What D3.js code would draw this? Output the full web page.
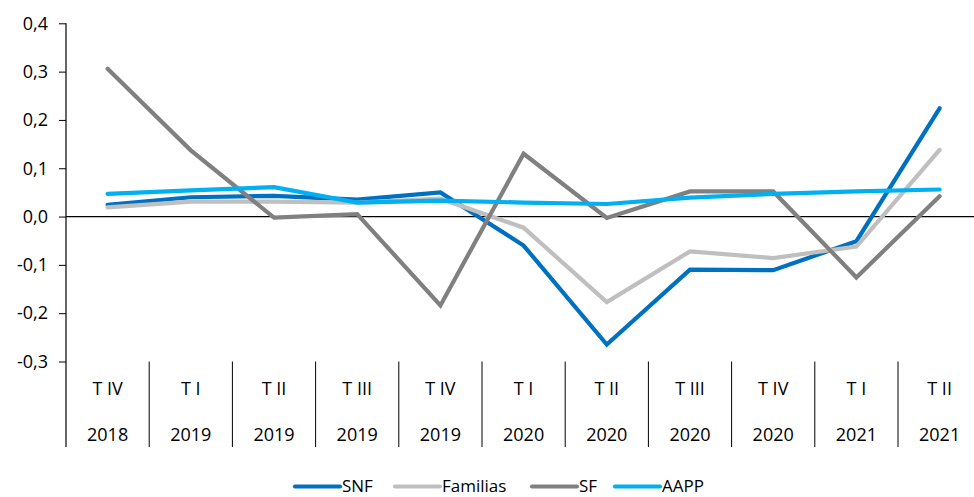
<!DOCTYPE html>
<html>
<head>
<meta charset="utf-8">
<script src="https://cdn.jsdelivr.net/npm/d3@7"></script>
<style>
  html, body { margin: 0; padding: 0; background: #fff; }
  svg { display: block; font-family: "Open Sans", "Noto Sans", sans-serif; }
</style>
</head>
<body>
<svg id="chart" width="974" height="497"></svg>
<script>
// Quarters and years shown on the category axis
const quarters = ["T IV", "T I", "T II", "T III", "T IV", "T I", "T II", "T III", "T IV", "T I", "T II"];
const years = ["2018", "2019", "2019", "2019", "2019", "2020", "2020", "2020", "2020", "2021", "2021"];

// Series values
const snf      = [0.024, 0.040, 0.043, 0.035, 0.050, -0.060, -0.265, -0.110, -0.111, -0.051, 0.224];
const familias = [0.019, 0.031, 0.031, 0.029, 0.037, -0.023, -0.177, -0.072, -0.086, -0.062, 0.138];
const sf       = [0.306, 0.137, -0.002, 0.005, -0.184, 0.130, -0.003, 0.052, 0.052, -0.126, 0.042];
const aapp     = [0.047, 0.054, 0.061, 0.029, 0.033, 0.029, 0.026, 0.039, 0.047, 0.052, 0.056];

const yTicks = [-0.3, -0.2, -0.1, 0.0, 0.1, 0.2, 0.3, 0.4];

const seriesNames = ["SNF", "Familias", "SF", "AAPP"];
const seriesData = [snf, familias, sf, aapp];
const colors = ["#0070C0", "#BFBFBF", "#808080", "#00B0F0"];

const svg = d3.select("#chart");
const plotLeft = 66, plotTop = 23.3, plotBottom = 361.5, step = 83.2;
const plotRight = plotLeft + step * quarters.length;
const catBottom = 447;
const fontSize = "18px";

const x = d3.scaleBand().domain(d3.range(quarters.length)).range([plotLeft, plotRight]).padding(0);
const y = d3.scaleLinear().domain([-0.3, 0.4]).range([plotBottom, plotTop]);
const fmt = v => d3.format(".1f")(v).replace(".", ",").replace("−", "-");

// Value axis
const yAxis = d3.axisLeft(y).tickValues(yTicks).tickSize(7).tickPadding(11).tickFormat(fmt);
const gy = svg.append("g").attr("transform", `translate(${plotLeft},0)`).call(yAxis);
gy.select(".domain").remove();
gy.selectAll(".tick line").attr("stroke", "#000").attr("stroke-width", 1);
gy.selectAll(".tick text").attr("fill", "#000").style("font-size", fontSize)
  .style("font-family", "'Open Sans', sans-serif");
svg.append("line").attr("x1", plotLeft).attr("x2", plotLeft).attr("y1", plotTop).attr("y2", catBottom)
  .attr("stroke", "#000").attr("stroke-width", 1.2);

// Zero line
svg.append("line").attr("x1", plotLeft).attr("x2", 974).attr("y1", y(0)).attr("y2", y(0))
  .attr("stroke", "#000").attr("stroke-width", 1.2);

// Category separators and labels
const cats = svg.append("g");
d3.range(1, quarters.length).forEach(i => {
  cats.append("line").attr("x1", x(i)).attr("x2", x(i)).attr("y1", plotBottom).attr("y2", catBottom)
    .attr("stroke", "#000").attr("stroke-width", 1);
});
quarters.forEach((q, i) => {
  const cx = x(i) + x.bandwidth() / 2;
  cats.append("text").attr("x", cx).attr("y", 394.5).attr("text-anchor", "middle")
    .style("font-size", fontSize).attr("fill", "#000").text(q);
  cats.append("text").attr("x", cx).attr("y", 440.5).attr("text-anchor", "middle")
    .style("font-size", fontSize).attr("fill", "#000").text(years[i]);
});

// Lines
const line = d3.line().x((d, i) => x(i) + x.bandwidth() / 2).y(d => y(d));
seriesData.forEach((s, k) => {
  svg.append("path").datum(s).attr("d", line).attr("fill", "none")
    .attr("stroke", colors[k]).attr("stroke-width", 4.2)
    .attr("stroke-linecap", "round").attr("stroke-linejoin", "miter");
});

// Legend
const legendX = [295, 395, 532, 615];
const legend = svg.append("g");
seriesNames.forEach((n, k) => {
  legend.append("line").attr("x1", legendX[k]).attr("x2", legendX[k] + 45)
    .attr("y1", 486.5).attr("y2", 486.5).attr("stroke", colors[k]).attr("stroke-width", 4.2)
    .attr("stroke-linecap", "round");
  legend.append("text").attr("x", legendX[k] + 47).attr("y", 492)
    .style("font-size", "17px").attr("fill", "#000").text(n);
});
</script>
</body>
</html>
